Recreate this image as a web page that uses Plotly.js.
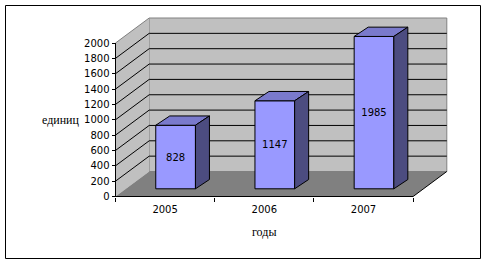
<!DOCTYPE html>
<html>
<head>
<meta charset="utf-8">
<script src="https://cdn.plot.ly/plotly-3.0.1.min.js"></script>
<style>html,body{margin:0;padding:0;background:#fff;}#chart{width:486px;height:263px;}</style>
</head>
<body>
<div id="chart"></div>
<script>
// ---- data ----
const years = ['2005', '2006', '2007'];
const values = [828, 1147, 1985];
const yTicks = [0, 200, 400, 600, 800, 1000, 1200, 1400, 1600, 1800, 2000];
const yTitle = 'единиц';
const xTitle = 'годы';

// ---- geometry (pixels) ----
const W = 486, H = 263;
const ML = 110, MR = 34, MT = 12, MB = 61;
const AX = 115.5, AY = 196.5;      // front y-axis x, front x-axis y
const CW = 99.2;                   // px per category
const PY = 153.5 / 2000;           // px per value unit
const DX = 33.7, DY = 25;          // box depth
const FX = 10.5, FY = 7.7;         // bar front offset into depth
const BX = 14, BY = 9.3;           // bar depth
const HALF = 0.2;                  // bar half width (category units)
const WT = 2000;                   // wall top value

const ux = p => p / CW, uy = p => p / PY;
const plotW = W - ML - MR, plotH = H - MT - MB;
const xRange = [-0.5 - ux(AX - ML), -0.5 + ux(W - MR - AX)];
const yRange = [-uy(H - MB - AY), uy(AY - MT)];
const px2paperX = p => (p - ML) / plotW;
const px2paperY = p => (H - MB - p) / plotH;

const n = years.length;
const xEnd = n - 0.5;
const dxu = ux(DX), dyu = uy(DY);

// ---- bar side/top faces ----
const topX = [], topY = [], sideX = [], sideY = [];
values.forEach((v, i) => {
  const xl = i - HALF + ux(FX), xr = xl + 2 * HALF;
  const yb = uy(FY), yt = yb + v;
  const bx = ux(BX), by = uy(BY);
  topX.push(xl, xr, xr + bx, xl + bx, xl, null);
  topY.push(yt, yt, yt + by, yt + by, yt, null);
  sideX.push(xr, xr + bx, xr + bx, xr, xr, null);
  sideY.push(yb, yb + by, yt + by, yt, yb, null);
});

const traces = [
  {
    type: 'bar', x: years, y: values, base: uy(FY),
    offset: -HALF + ux(FX), width: 2 * HALF,
    marker: {color: '#9999ff', line: {color: '#000', width: 1}},
    text: values.map(String), textposition: 'inside', insidetextanchor: 'middle',
    textangle: 0, constraintext: 'none',
    insidetextfont: {family: 'DejaVu Sans', size: 10, color: '#000'},
    hoverinfo: 'skip', xaxis: 'x', yaxis: 'y'
  },
  {
    type: 'scatter', mode: 'lines', x: topX, y: topY, fill: 'toself',
    fillcolor: '#7a7acc', line: {color: '#000', width: 1}, connectgaps: false,
    hoverinfo: 'skip', xaxis: 'x2', yaxis: 'y'
  },
  {
    type: 'scatter', mode: 'lines', x: sideX, y: sideY, fill: 'toself',
    fillcolor: '#4c4c80', line: {color: '#000', width: 1}, connectgaps: false,
    hoverinfo: 'skip', xaxis: 'x2', yaxis: 'y'
  }
];

// ---- 3D box decorations ----
const shapes = [];
// back wall
shapes.push({type: 'rect', xref: 'x', yref: 'y', layer: 'below',
  x0: -0.5 + dxu, x1: xEnd + dxu, y0: dyu, y1: WT + dyu,
  fillcolor: '#c0c0c0', line: {color: '#808080', width: 1}});
// side wall
shapes.push({type: 'path', xref: 'x', yref: 'y', layer: 'below',
  path: `M ${-0.5} 0 L ${-0.5} ${WT} L ${-0.5 + dxu} ${WT + dyu} L ${-0.5 + dxu} ${dyu} Z`,
  fillcolor: '#c0c0c0', line: {width: 0}});
// floor
shapes.push({type: 'path', xref: 'x', yref: 'y', layer: 'below',
  path: `M ${-0.5} 0 L ${xEnd} 0 L ${xEnd + dxu} ${dyu} L ${-0.5 + dxu} ${dyu} Z`,
  fillcolor: '#808080', line: {width: 0}});
// side wall top edge
shapes.push({type: 'line', xref: 'x', yref: 'y', layer: 'below',
  x0: -0.5, y0: WT, x1: -0.5 + dxu, y1: WT + dyu, line: {color: '#808080', width: 1}});
// gridlines: side diagonals + back wall
yTicks.filter(v => v > 0 && v < WT).forEach(v => {
  shapes.push({type: 'line', xref: 'x', yref: 'y', layer: 'below',
    x0: -0.5, y0: v, x1: -0.5 + dxu, y1: v + dyu, line: {color: '#000', width: 1}});
  shapes.push({type: 'line', xref: 'x', yref: 'y', layer: 'below',
    x0: -0.5 + dxu, y0: v + dyu, x1: xEnd + dxu, y1: v + dyu, line: {color: '#000', width: 1}});
});
// floor right edge
shapes.push({type: 'line', xref: 'x', yref: 'y', layer: 'below',
  x0: xEnd, y0: 0, x1: xEnd + dxu, y1: dyu, line: {color: '#000', width: 1}});
// axis lines
shapes.push({type: 'line', xref: 'x', yref: 'y', layer: 'below',
  x0: -0.5, y0: 0, x1: -0.5, y1: WT, line: {color: '#000', width: 1}});
shapes.push({type: 'line', xref: 'x', yref: 'y', layer: 'below',
  x0: -0.5, y0: 0, x1: xEnd, y1: 0, line: {color: '#000', width: 1}});
// outer border
shapes.push({type: 'rect', xref: 'paper', yref: 'paper', layer: 'above',
  x0: px2paperX(5.5), x1: px2paperX(480.5), y0: px2paperY(258.5), y1: px2paperY(5.5),
  fillcolor: 'rgba(0,0,0,0)', line: {color: '#000', width: 1}});

const tickFont = {family: 'DejaVu Sans', size: 10, color: '#000'};
const layout = {
  width: W, height: H,
  margin: {l: ML, r: MR, t: MT, b: MB, pad: 0},
  paper_bgcolor: '#fff', plot_bgcolor: 'rgba(0,0,0,0)',
  showlegend: false,
  xaxis: {
    type: 'category', categoryorder: 'array', categoryarray: years,
    range: xRange, anchor: 'free', position: px2paperY(AY),
    tickson: 'boundaries', ticks: 'outside', ticklen: 4, tickcolor: '#000', tickwidth: 1,
    ticklabelstandoff: 5,
    showline: false, showgrid: false, zeroline: false, tickfont: tickFont, fixedrange: true
  },
  xaxis2: {
    type: 'linear', overlaying: 'x', range: xRange, visible: false, fixedrange: true
  },
  yaxis: {
    range: yRange, anchor: 'free', position: px2paperX(AX),
    tickmode: 'array', tickvals: yTicks, ticktext: yTicks.map(String),
    ticks: 'outside', ticklen: 4, tickcolor: '#000', tickwidth: 1,
    showline: false, showgrid: false, zeroline: false, tickfont: tickFont, fixedrange: true
  },
  shapes: shapes,
  annotations: [
    {text: yTitle, xref: 'paper', yref: 'paper', x: px2paperX(61), y: px2paperY(119.5),
     xanchor: 'center', yanchor: 'middle', showarrow: false,
     font: {family: 'Liberation Serif', size: 12, color: '#000'}},
    {text: xTitle, xref: 'paper', yref: 'paper', x: px2paperX(264), y: px2paperY(232),
     xanchor: 'center', yanchor: 'middle', showarrow: false,
     font: {family: 'Liberation Serif', size: 12, color: '#000'}}
  ]
};

Plotly.newPlot('chart', traces, layout, {staticPlot: true, displayModeBar: false});
</script>
</body>
</html>
